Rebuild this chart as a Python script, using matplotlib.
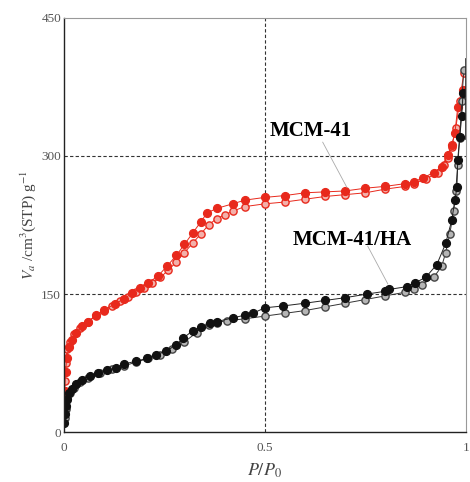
import matplotlib
matplotlib.use("Agg")
import matplotlib.pyplot as plt

plt.rcParams['font.family'] = ['Liberation Serif', 'DejaVu Serif']
plt.rcParams['mathtext.fontset'] = 'stix'

# MCM-41 adsorption (filled) / desorption (open)
mcm_ads_x = [0.001, 0.002, 0.004, 0.007, 0.012, 0.02, 0.03, 0.045, 0.06, 0.08, 0.1, 0.127, 0.15, 0.17,
             0.19, 0.21, 0.235, 0.256, 0.28, 0.30, 0.32, 0.34, 0.356, 0.38, 0.42, 0.45, 0.5, 0.55, 0.60,
             0.65, 0.70, 0.75, 0.80, 0.85, 0.87, 0.893, 0.92, 0.94, 0.955, 0.965, 0.973, 0.98, 0.993]
mcm_ads_y = [20, 45, 65, 80, 92, 100, 108, 115, 120, 127, 133, 139, 145, 151,
             156, 162, 170, 180, 192, 204, 216, 228, 238, 243, 248, 252, 255, 257, 260,
             261, 262, 265, 267, 270, 272, 276, 282, 288, 301, 312, 325, 353, 372]
mcm_des_x = [0.995, 0.985, 0.975, 0.965, 0.955, 0.945, 0.93, 0.9, 0.87, 0.85, 0.80, 0.75, 0.70, 0.65,
             0.60, 0.55, 0.50, 0.45, 0.42, 0.40, 0.38, 0.36, 0.34, 0.32, 0.30, 0.28, 0.26, 0.24, 0.22,
             0.20, 0.18, 0.16, 0.14, 0.12, 0.10, 0.08, 0.06, 0.04, 0.025, 0.015, 0.008, 0.004, 0.002, 0.001]
mcm_des_y = [390, 360, 330, 310, 298, 290, 282, 275, 270, 267, 264, 260, 258, 256,
             253, 250, 248, 245, 240, 236, 232, 225, 215, 205, 195, 185, 176, 168, 162,
             157, 152, 147, 142, 137, 132, 126, 120, 113, 106, 98, 90, 75, 55, 30]

# MCM-41/HA adsorption (filled) / desorption (open)
ha_ads_x = [0.001, 0.002, 0.004, 0.007, 0.012, 0.02, 0.03, 0.045, 0.065, 0.085, 0.107, 0.13, 0.15, 0.18,
            0.206, 0.23, 0.255, 0.28, 0.297, 0.32, 0.34, 0.363, 0.38, 0.42, 0.45, 0.47, 0.5, 0.545, 0.6,
            0.65, 0.70, 0.755, 0.80, 0.81, 0.853, 0.873, 0.90, 0.928, 0.95, 0.965, 0.973, 0.978, 0.98,
            0.985, 0.99, 0.993]
ha_ads_y = [10, 20, 28, 36, 42, 47, 52, 57, 61, 64, 67, 70, 74, 77,
            80, 84, 88, 95, 102, 110, 114, 118, 120, 124, 127, 129, 135, 137, 140,
            143, 146, 150, 153, 155, 158, 162, 168, 182, 205, 230, 252, 266, 296,
            321, 343, 368]
ha_des_x = [0.995, 0.99, 0.985, 0.98, 0.975, 0.97, 0.96, 0.95, 0.94, 0.92, 0.89, 0.87, 0.85, 0.80,
            0.75, 0.70, 0.65, 0.60, 0.55, 0.50, 0.45, 0.405, 0.38, 0.36, 0.33, 0.30, 0.27, 0.24, 0.21,
            0.18, 0.15, 0.12, 0.09, 0.06, 0.04, 0.025, 0.015, 0.008, 0.004, 0.002]
ha_des_y = [393, 360, 320, 290, 262, 240, 215, 195, 180, 168, 160, 155, 152, 148,
            144, 140, 136, 132, 129, 126, 123, 121, 119, 116, 108, 98, 90, 84, 80,
            76, 72, 68, 64, 59, 54, 48, 42, 35, 25, 15]
edge_x = [1.0, 1.0]
edge_y = [405, 318]

fig = plt.figure(figsize=(4.7, 4.82), dpi=100)
ax = fig.add_axes([0.136, 0.1037, 0.855, 0.859])

red = '#e8291c'
ax.plot(mcm_des_x, mcm_des_y, '-o', color=red, lw=0.7, ms=5.2, mfc='#f3b0aa', mec=red, mew=1.0)
ax.plot(mcm_ads_x, mcm_ads_y, '-o', color=red, lw=0.7, ms=5.6, mfc=red, mec=red)
ax.plot(ha_des_x, ha_des_y, '-o', color='#333333', lw=0.7, ms=5.2, mfc='#b5b5b5', mec='#444444', mew=1.0)
ax.plot(ha_ads_x, ha_ads_y, '-o', color='#222222', lw=0.7, ms=5.6, mfc='#111111', mec='#111111')
ax.plot(edge_x, edge_y, '-', color='#222222', lw=1.2)

ax.set_xlim(0, 1)
ax.set_ylim(0, 450)
ax.set_xticks([0, 0.5, 1])
ax.set_xticklabels(['0', '0.5', '1'])
ax.set_yticks([0, 150, 300, 450])
ax.tick_params(length=0, labelsize=9.5, labelcolor='#555555', pad=7)
ax.tick_params(axis='y', pad=2)

for v in [150, 300]:
    ax.axhline(v, color='#333333', lw=0.8, ls=(0, (3, 2)), zorder=0)
ax.axvline(0.5, color='#333333', lw=0.8, ls=(0, (3, 2)), zorder=0)

for s in ['left', 'bottom']:
    ax.spines[s].set_color('#222222')
    ax.spines[s].set_linewidth(1.0)
for s in ['top', 'right']:
    ax.spines[s].set_color('#999999')
    ax.spines[s].set_linewidth(0.8)

ax.text(0.512, 327, 'MCM-41', fontsize=15, fontweight='bold', va='center', ha='left')
ax.plot([0.644, 0.704], [315, 266], color='#aaaaaa', lw=0.6)
ax.text(0.57, 209, 'MCM-41/HA', fontsize=15, fontweight='bold', va='center', ha='left')
ax.plot([0.756, 0.806], [202, 161], color='#aaaaaa', lw=0.6)

ax.set_xlabel(r'$P/P_{\mathit{0}}$', fontsize=13, color='#444444', labelpad=6)
ax.set_ylabel('$V_a$ /cm$^3$(STP) g$^{-1}$', fontsize=11, color='#444444', labelpad=2)

fig.savefig('out.png', dpi=100)
